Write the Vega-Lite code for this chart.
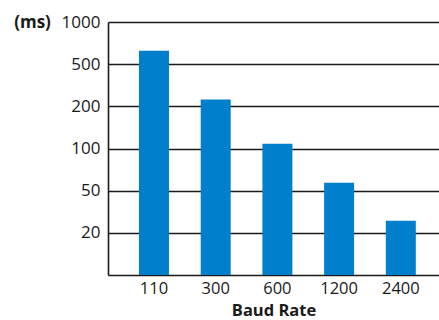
{
  "$schema": "https://vega.github.io/schema/vega-lite/v6.json",
  "autosize": "none",
  "padding": {"left": 108, "top": 22, "right": 0, "bottom": 45},
  "width": 331,
  "height": 253,
  "background": "white",
  "config": {
    "view": {"stroke": null},
    "font": "Open Sans"
  },
  "data": {
    "values": [
      {"baud": "110", "ms": 624},
      {"baud": "300", "ms": 232},
      {"baud": "600", "ms": 108},
      {"baud": "1200", "ms": 57},
      {"baud": "2400", "ms": 26}
    ]
  },
  "mark": {"type": "bar", "color": "#0080cc"},
  "encoding": {
    "x": {
      "field": "baud",
      "type": "ordinal",
      "sort": null,
      "scale": {"paddingInner": 0.514, "paddingOuter": 0.439, "align": 0.572},
      "axis": {
        "title": "Baud Rate",
        "titleFont": "Open Sans",
        "titleFontSize": 16.5,
        "titleFontWeight": "bold",
        "titleColor": "#1a1a1a",
        "titleBaseline": "alphabetic",
        "titleY": 40,
        "labelAngle": 0,
        "labelFont": "Open Sans",
        "labelFontSize": 16.5,
        "labelColor": "#1a1a1a",
        "labelBaseline": "alphabetic",
        "labelPadding": 18,
        "ticks": false,
        "domainColor": "#1a1a1a",
        "domainWidth": 1.6
      }
    },
    "y": {
      "field": "ms",
      "type": "quantitative",
      "scale": {
        "type": "log",
        "domain": [10, 20, 50, 100, 200, 500, 1000],
        "range": [253, 210.83, 168.67, 126.5, 84.33, 42.17, 0],
        "clamp": true
      },
      "axis": {
        "values": [20, 50, 100, 200, 500, 1000],
        "format": "d",
        "title": "(ms)",
        "titleAngle": 0,
        "titleX": -76,
        "titleY": 0,
        "titleAlign": "center",
        "titleBaseline": "middle",
        "titleFont": "Open Sans",
        "titleFontSize": 17,
        "titleFontWeight": "bold",
        "titleColor": "#1a1a1a",
        "labelFont": "Open Sans",
        "labelFontSize": 17,
        "labelColor": "#1a1a1a",
        "labelPadding": 8,
        "labelBaseline": "middle",
        "ticks": false,
        "grid": true,
        "gridColor": "#1a1a1a",
        "gridWidth": 1.6,
        "gridOpacity": 1,
        "domainColor": "#1a1a1a",
        "domainWidth": 1.6
      }
    },
    "y2": {"datum": 10}
  }
}
